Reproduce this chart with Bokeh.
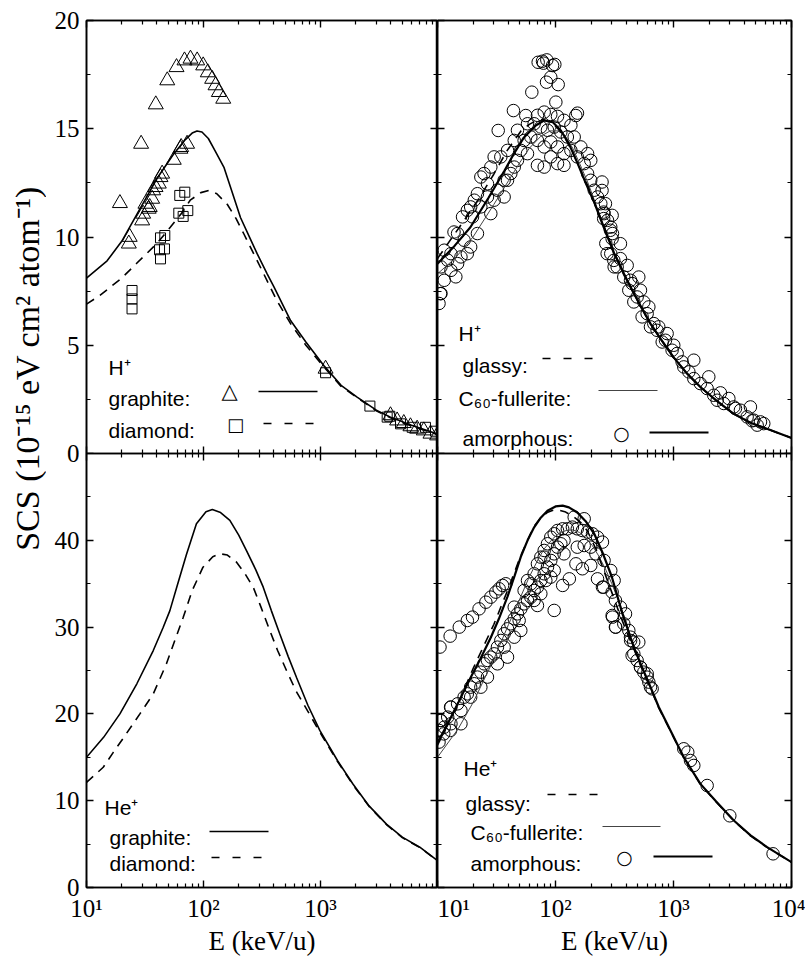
import math
from bokeh.plotting import figure
from bokeh.models import Range1d, LogAxis, LinearAxis, FixedTicker, Label, Arrow
from bokeh.layouts import row, column
from bokeh.embed import file_html
from bokeh.resources import INLINE

SERIF = "Liberation Serif"
SANS = "Liberation Sans"
SYM = "DejaVu Sans"

# ---------------- axes / ticks ----------------
x_major = [10, 100, 1000, 10000]
x_major_left = [10, 100, 1000]
x_minor = [20, 30, 40, 50, 60, 70, 80, 90,
           200, 300, 400, 500, 600, 700, 800, 900,
           2000, 3000, 4000, 5000, 6000, 7000, 8000, 9000]
x_labels = {10: "10¹", 100: "10²", 1000: "10³", 10000: "10⁴"}
x_title = "E (keV/u)"
y_title = "SCS (10⁻¹⁵ eV cm² atom⁻¹)"
top_y_major = [0, 5, 10, 15, 20]
top_y_minor = [2.5, 7.5, 12.5, 17.5]
bot_y_major = [0, 10, 20, 30, 40]
bot_y_minor = [5, 15, 25, 35, 45]

# ---------------- H+ : graphite / diamond (top left) ----------------
H_graphite_E = [10, 15, 20, 30, 40, 55, 70, 80, 88, 97, 110, 125, 150, 175, 207, 250, 288, 350, 400, 555, 750, 1067, 1500, 2055, 3000, 3963, 6000, 10000]
H_graphite_S = [8.1, 8.9, 9.8, 11.5, 12.7, 13.8, 14.5, 14.8, 14.9, 14.85, 14.55, 14.0, 13.2, 12.1, 10.9, 9.94, 9.22, 8.3, 7.7, 6.14, 5.15, 4.06, 3.15, 2.6, 2.0, 1.68, 1.3, 0.9]
H_diamond_E = [10, 13, 20, 27, 40, 52, 65, 77, 95, 111, 130, 160, 190, 221, 270, 327, 420, 555, 750, 1067, 1500, 2055, 3000, 3963, 6000, 10000]
H_diamond_S = [6.9, 7.3, 8.1, 8.8, 9.7, 10.45, 11.1, 11.7, 12.05, 12.15, 12.0, 11.5, 10.85, 10.15, 9.2, 8.3, 7.1, 6.0, 5.0, 4.0, 3.1, 2.58, 1.97, 1.65, 1.27, 0.87]

H_graphite_data = [
    (19.3, 11.56), (29.3, 14.3), (39.1, 16.12), (49, 17.23), (58.8, 17.84), (68.8, 18.15),
    (77.4, 18.23), (88.3, 18.15), (99.4, 17.92), (108.8, 17.6), (118.6, 17.3), (126.7, 17.0),
    (135.3, 16.69), (147.5, 16.38), (23, 9.69), (23.4, 10.0), (29.9, 10.76), (30.5, 11.07),
    (31.9, 11.53), (34.0, 11.3), (34.7, 11.38), (36.4, 11.76), (37.1, 12.15), (38.9, 12.3),
    (41.5, 12.46), (42.9, 12.76), (44.3, 12.92), (55.7, 13.56), (63.5, 14.07), (64.4, 14.15),
    (72.4, 14.3), (1105, 3.91), (3963, 1.76), (4519, 1.52), (5150, 1.40), (5874, 1.25),
    (6698, 1.14), (7638, 1.06), (8710, 0.91), (9932, 0.83)]
H_diamond_data = [
    (24.5, 7.53), (24.5, 7.14), (24.5, 6.68), (42.1, 9.41), (42.9, 8.99), (46.4, 9.45),
    (42.9, 9.96), (46.7, 10.07), (61.5, 11.1), (67, 10.95), (73.4, 11.22), (62.7, 11.92),
    (69.2, 12.07), (1105, 3.73), (2644, 2.19), (3715, 1.68), (3910, 1.72), (4830, 1.37),
    (6080, 1.21), (7890, 1.21), (9620, 1.03)]

# ---------------- H+ : glassy / C60 / amorphous (top right) ----------------
H_amorph_E = [10, 14, 19, 27, 37, 45, 54, 68, 80, 95, 111, 130, 154, 180, 213, 250, 314, 380, 461, 540, 638, 800, 1000, 1300, 1700, 2300, 3240, 4500, 6200, 10000]
H_amorph_S = [8.76, 9.6, 10.45, 11.8, 13.07, 13.9, 14.6, 15.15, 15.38, 15.3, 14.92, 14.3, 13.4, 12.5, 11.6, 10.6, 9.25, 8.3, 7.4, 6.7, 6.0, 5.2, 4.45, 3.7, 3.06, 2.45, 1.83, 1.42, 1.14, 0.72]
H_c60_E = [10, 14, 20, 30, 40, 50, 60, 75, 90, 105, 120, 140, 160, 190, 220, 270, 320, 380, 461, 540, 638, 800, 1000, 1300, 1700, 2300, 3240, 4500, 6200, 10000]
H_c60_S = [8.3, 9.0, 10.0, 11.5, 12.6, 13.45, 14.1, 14.65, 14.9, 14.9, 14.7, 14.1, 13.4, 12.45, 11.5, 10.2, 9.1, 8.2, 7.35, 6.65, 5.95, 5.15, 4.4, 3.66, 3.02, 2.42, 1.8, 1.4, 1.12, 0.71]
H_glassy_E = [10, 13, 17, 22, 30, 39, 51, 60, 70, 80, 90, 105, 120, 140, 160, 190, 220, 270, 320, 380, 461, 540, 638, 800, 1000, 1300, 1700, 2300, 3240, 4500, 6200, 10000]
H_glassy_S = [9.0, 9.9, 10.8, 11.7, 12.9, 14.0, 14.9, 15.2, 15.4, 15.42, 15.3, 15.0, 14.6, 13.9, 13.2, 12.3, 11.4, 10.2, 9.2, 8.3, 7.4, 6.7, 6.0, 5.2, 4.45, 3.7, 3.06, 2.45, 1.83, 1.42, 1.14, 0.72]

H_amorph_data = [
    (71.3, 18.07), (77.6, 18.12), (84.4, 18.18), (79.1, 18.03), (94.4, 17.92), (98.7, 17.97),
    (91.2, 17.38), (83.9, 17.15), (105.4, 17.04), (63, 16.69), (100.7, 16.23), (44, 15.84),
    (32.7, 14.92), (56, 15.61), (153.5, 15.72), (148.6, 15.61),
    (70.3, 15.62), (80.2, 15.77), (91.2, 15.66), (104, 15.57), (118, 15.39), (135, 15.16),
    (65.9, 15.23), (75.1, 15.08), (85.5, 14.93), (97.5, 15.08), (111, 14.85), (126, 14.62),
    (144, 14.62), (164, 14.16), (187, 13.85), (199, 13.54), (61.8, 14.62), (70.3, 14.46),
    (80.2, 14.16), (91.2, 14.39), (104, 14.16), (118, 13.85), (135, 14.0), (153, 13.7),
    (175, 13.39), (70.3, 13.31), (80.2, 13.23), (91.2, 13.7), (104, 13.39), (118, 13.31),
    (50.8, 14.0), (57.9, 13.85), (54.2, 14.46), (47.6, 13.54), (44.7, 13.23), (41.8, 12.93),
    (39.2, 14.0), (36.7, 12.62), (187, 12.93), (199, 12.62), (213, 12.16), (227, 11.85),
    (242, 11.54), (258, 11.08), (276, 10.77), (294, 10.46), (304, 10.16), (267, 9.70),
    (294, 9.23), (314, 8.62),
    (30.2, 13.7), (28.3, 13.23), (24.8, 12.93), (23.3, 12.77), (26.5, 12.46), (21.8, 12.0),
    (20.5, 11.7), (19.1, 11.39), (17.9, 11.23), (16.3, 10.93), (19.8, 10.93), (14.8, 10.16),
    (13.8, 10.23), (16.8, 9.85), (19.1, 9.54), (17.9, 9.23), (21.8, 10.16), (28.3, 11.08),
    (32.2, 12.16), (39.2, 12.62), (36.7, 11.85), (13.0, 9.23), (11.4, 9.39), (12.2, 8.93),
    (10.7, 8.62), (13.0, 8.46), (14.3, 8.16), (11.4, 8.0), (10.7, 7.39), (10.3, 6.93),
    (14.8, 8.77), (15.8, 9.08), (44.7, 14.46), (34.4, 13.7), (47.6, 14.93), (57.9, 15.23),
    (26.5, 11.85), (23.3, 11.39), (30.2, 11.7), (10.6, 7.38),
    (248, 12.54), (248, 12.15), (265, 11.54), (256, 11.15), (302, 11.0), (256, 10.85),
    (292, 10.31), (302, 9.92), (355, 9.69), (274, 9.23), (312, 8.92), (355, 9.0),
    (333, 8.62), (405, 8.69), (379, 8.15), (508, 8.15), (446, 7.85), (525, 7.54),
    (492, 7.23), (461, 7.0), (560, 7.0), (618, 6.77), (598, 6.46), (542, 6.31),
    (681, 6.0), (638, 5.85), (726, 5.69), (883, 5.54), (802, 5.15), (1005, 5.0),
    (973, 4.77), (1183, 4.23), (1486, 4.31), (1349, 3.77), (1486, 3.46), (1690, 3.23),
    (1991, 3.54), (1928, 3.0), (2193, 2.69), (2500, 2.8), (2944, 2.54), (2667, 2.31),
    (3350, 2.08), (3690, 2.0), (4487, 2.15), (4207, 1.69), (4786, 1.54), (5458, 1.46),
    (5821, 1.38), (5117, 1.31), (4634, 1.51), (3243, 2.15), (2344, 2.46), (1222, 4.0),
    (1074, 4.62), (855, 5.23), (750, 5.85), (432, 8.0), (418, 7.54)]

# ---------------- He+ : graphite / diamond (bottom left) ----------------
He_graphite_E = [10, 14, 19.3, 27, 37.2, 45, 51.6, 60, 71.6, 87, 105, 119, 140, 168, 200, 233, 280, 324, 380, 449, 530, 624, 780, 986, 1400, 1900, 2600, 3660, 5000, 7060, 10000]
He_graphite_S = [15.0, 17.3, 20.0, 23.5, 27.3, 29.9, 31.9, 34.9, 38.4, 41.9, 43.3, 43.55, 43.2, 42.3, 40.6, 38.8, 36.6, 34.6, 31.9, 29.2, 26.6, 24.2, 21.0, 18.1, 14.6, 11.9, 9.4, 7.3, 5.8, 4.64, 3.11]
He_diamond_E = [10, 13.9, 17, 20.6, 28.6, 37.2, 48.3, 57, 67, 80, 99, 120, 138, 160, 191, 225, 266, 310, 369, 430, 512, 620, 780, 986, 1400, 1900, 2600, 3660, 5000, 7060, 10000]
He_diamond_S = [12.1, 13.85, 15.6, 17.2, 20.0, 22.3, 25.8, 28.5, 31.1, 34.2, 36.9, 38.1, 38.45, 38.3, 37.5, 36.2, 34.6, 32.3, 29.6, 27.3, 25.0, 22.6, 20.3, 17.9, 14.5, 11.8, 9.35, 7.25, 5.75, 4.6, 3.1]

# ---------------- He+ : glassy / C60 / amorphous (bottom right) ----------------
He_amorph_E = [10, 12.2, 15, 19.1, 23, 28.3, 33, 39.2, 45, 50.8, 58, 65.9, 75, 85.5, 100, 115, 130, 153, 180, 213, 250, 300, 370, 461, 540, 638, 750, 883, 1222, 1690, 2300, 3243, 4500, 6210, 10000]
He_amorph_S = [16.7, 18.86, 21.3, 24.2, 26.3, 28.8, 30.9, 33.5, 35.9, 38.1, 40.0, 41.5, 42.6, 43.4, 43.9, 44.0, 43.8, 43.2, 42.2, 40.75, 38.6, 35.8, 31.5, 27.7, 25.4, 23.1, 20.8, 18.86, 15.0, 11.94, 9.9, 7.72, 6.0, 4.65, 2.92]
He_c60_E = [10, 15, 20, 30, 40, 50, 60, 70, 80, 95, 110, 125, 140, 160, 180, 205, 230, 265, 300, 350, 400, 461, 540, 638, 750, 883, 1222, 1690, 2300, 3243, 4500, 6210, 10000]
He_c60_S = [15.0, 18.3, 21.3, 26.3, 30.3, 33.3, 35.8, 37.6, 39.0, 40.2, 40.9, 41.15, 41.2, 40.9, 40.3, 39.4, 38.3, 36.7, 35.0, 32.7, 30.5, 27.6, 25.2, 23.0, 20.7, 18.8, 14.95, 11.9, 9.85, 7.7, 5.95, 4.63, 2.91]
He_glassy_E = [10, 15, 20, 30, 40, 50, 65, 75, 85, 95, 104, 120, 143, 165, 186, 220, 257, 300, 350, 400, 461, 540, 638, 750, 883, 1222, 1690, 2300, 3243, 4500, 6210, 10000]
He_glassy_S = [16.4, 21.2, 25.2, 30.3, 34.5, 38.0, 41.5, 42.6, 43.2, 43.45, 43.5, 43.3, 42.7, 42.0, 41.1, 39.0, 36.5, 34.0, 31.5, 29.5, 27.5, 25.2, 23.0, 20.7, 18.8, 14.95, 11.9, 9.85, 7.7, 5.95, 4.63, 2.91]

He_amorph_data = [
    (10.5, 27.7), (12.8, 28.96), (15.3, 30.0), (17.9, 30.76), (19.8, 31.15), (22.5, 32.1),
    (25.7, 32.87), (28.3, 33.45), (31.2, 34.03), (33.3, 34.41), (35.6, 34.8), (37.9, 34.99),
    (10.7, 19.24), (12.2, 19.63), (13.0, 20.78), (14.8, 21.16), (15.8, 20.39), (16.8, 21.93),
    (17.9, 22.31), (19.1, 23.08), (20.5, 23.47), (21.8, 24.24), (23.3, 24.81), (24.8, 25.77),
    (26.5, 26.16), (28.3, 26.54), (30.2, 26.92), (32.2, 27.69), (34.4, 28.46), (36.7, 29.23),
    (39.2, 29.8), (41.8, 30.38), (44.7, 30.96), (47.6, 31.53), (50.8, 32.1), (54.2, 32.68),
    (57.9, 33.07), (61.8, 33.45), (65.9, 34.22), (70.3, 34.6), (75.1, 35.37), (80.2, 36.14),
    (85.5, 36.91), (91.2, 37.68), (97.5, 38.44), (104, 39.21), (111, 39.6), (118, 39.98),
    (61.8, 34.99), (65.9, 36.14), (70.3, 37.29), (75.1, 38.06), (80.2, 38.83), (85.5, 39.6),
    (91.2, 40.36), (97.5, 40.75), (104, 41.13), (115, 41.32), (126, 41.32), (139, 41.52),
    (153, 41.32), (169, 41.13), (187, 40.94), (206, 40.75), (227, 40.36), (250, 39.79),
    (144, 42.67), (175, 42.48), (153, 39.21), (175, 39.4), (199, 39.21), (220, 38.44),
    (258, 37.68), (294, 36.52), (314, 35.37), (118, 38.44), (115, 34.8), (97.5, 31.92),
    (131, 35.56), (149, 37.29), (169, 36.72), (199, 37.1), (227, 35.56), (250, 34.6),
    (304, 31.15), (324, 30.0), (36.7, 27.69), (39.2, 26.54), (44.7, 28.84), (50.8, 29.61),
    (32.2, 25.77), (26.5, 24.24), (23.3, 23.08), (19.1, 21.93), (15.8, 18.86), (11.4, 18.47),
    (13.0, 18.86), (44.7, 32.3), (54.2, 34.22), (57.9, 35.37), (75.1, 33.84), (70.3, 32.49),
    (65.9, 33.07), (49.2, 30.76), (80.2, 38.06), (97.5, 36.52), (91.2, 35.76), (82.8, 35.37),
    (10.3, 18.1), (10.6, 19.24), (12.9, 20.78), (11.3, 17.7), (12.9, 18.1), (10.3, 16.75),
    (256, 34.6), (302, 34.03), (322, 33.07), (355, 32.3), (392, 31.53), (302, 31.34),
    (322, 30.0), (379, 30.38), (418, 29.61), (432, 28.84), (460, 28.27), (508, 28.27),
    (446, 26.73), (492, 26.15), (525, 25.38), (560, 24.81), (598, 24.23), (618, 23.66),
    (659, 22.89), (433, 28.46), (461, 26.92), (526, 25.38), (599, 24.62), (638, 23.08),
    (1222, 15.98), (1321, 15.59), (1393, 14.63), (1486, 14.06), (1928, 11.75), (3000, 8.26),
    (6980, 3.88)]


def split(pts):
    return [a for a, _ in pts], [b for _, b in pts]


# ---------------- helpers ----------------
def axis_style(ax, ticks, minor, show, overrides=None):
    ax.ticker = FixedTicker(ticks=ticks, minor_ticks=minor)
    ax.axis_line_color = "black"
    ax.axis_line_width = 1.6
    ax.major_tick_in = 7
    ax.major_tick_out = 0
    ax.minor_tick_in = 4
    ax.minor_tick_out = 0
    ax.major_tick_line_color = "black"
    ax.minor_tick_line_color = "black"
    ax.major_tick_line_width = 1.4
    ax.minor_tick_line_width = 1.2
    ax.major_label_text_font = SERIF
    ax.major_label_text_color = "black"
    if show:
        ax.major_label_text_font_size = "25px"
        ax.major_label_standoff = 7
        if overrides is not None:
            ax.major_label_overrides = overrides
    else:
        ax.major_label_text_font_size = "1px"
        ax.major_label_text_alpha = 0
        ax.major_label_standoff = 0


def make_panel(w, h, ytop, ymaj, ymin, show_y, show_x, xticks, bl, br, bt, bb, clear=False):
    p = figure(width=w, height=h, x_axis_type="log",
               x_range=Range1d(10, 10000), y_range=Range1d(0, ytop),
               output_backend="svg", toolbar_location=None,
               min_border_left=bl, min_border_right=br,
               min_border_top=bt, min_border_bottom=bb)
    p.xgrid.visible = False
    p.ygrid.visible = False
    p.outline_line_color = "black"
    p.outline_line_width = 1.5
    p.background_fill_color = "white"
    p.border_fill_color = None if clear else "white"
    axis_style(p.xaxis[0], xticks, x_minor, show_x, x_labels)
    if show_x:
        p.xaxis[0].axis_label = x_title
        p.xaxis[0].axis_label_text_font = SERIF
        p.xaxis[0].axis_label_text_font_size = "27px"
        p.xaxis[0].axis_label_text_font_style = "normal"
        p.xaxis[0].axis_label_text_color = "black"
        p.xaxis[0].axis_label_standoff = 1
    axis_style(p.yaxis[0], ymaj, ymin, show_y)
    ta = LogAxis()
    axis_style(ta, x_major, x_minor, False)
    p.add_layout(ta, "above")
    ra = LinearAxis()
    axis_style(ra, ymaj, ymin, False)
    p.add_layout(ra, "right")
    return p


def txt(p, x, y, s, size="21px", font=SANS, align="left", baseline="alphabetic"):
    p.add_layout(Label(x=x, y=y, x_units="screen", y_units="screen", text=s,
                       text_font=font, text_font_size=size, text_align=align,
                       text_baseline=baseline, text_color="black"))


def seg(p, x0, x1, y, width=1.6, dash="solid", color="black"):
    p.add_layout(Arrow(end=None, x_start=x0, x_end=x1, y_start=y, y_end=y,
                       start_units="screen", end_units="screen",
                       line_width=width, line_dash=dash, line_color=color))


DASH = "9 7"
THIN = "#444444"
OVER = 14  # bottom row overlaps the top row's bottom border so the shared "0" is whole

# ---------------- panels ----------------
tl = make_panel(391, 453 + OVER, 20, top_y_major, top_y_minor, True, False, x_major, 40, 0, 20, OVER)
tr = make_panel(368, 453 + OVER, 20, top_y_major, top_y_minor, False, False, x_major, 0, 14, 20, OVER)
bl = make_panel(391, 506, 50, bot_y_major, bot_y_minor, True, True, x_major_left, 40, 0, 0, 72, clear=True)
br = make_panel(368, 506, 50, bot_y_major, bot_y_minor, False, True, x_major, 0, 14, 0, 72, clear=True)

# top left
tl.line(H_graphite_E, H_graphite_S, line_color="black", line_width=1.6)
tl.line(H_diamond_E, H_diamond_S, line_color="black", line_width=1.6, line_dash=DASH)
e, s = split(H_graphite_data)
tl.scatter(e, s, marker="triangle", size=15, fill_color=None, line_color="black", line_width=1)
e, s = split(H_diamond_data)
tl.scatter(e, s, marker="square", size=10, fill_color=None, line_color="black", line_width=1)
txt(tl, 22, 86, "H⁺")
txt(tl, 22, 55, "graphite:")
txt(tl, 22, 23, "diamond:")
txt(tl, 143, 63, "△", size="21px", font=SYM, align="center", baseline="middle")
txt(tl, 149, 29, "□", size="18px", font=SYM, align="center", baseline="middle")
seg(tl, 172, 231, 62)
seg(tl, 177, 236, 30, dash="8 13")

# top right
e, s = split(H_amorph_data)
tr.scatter(e, s, marker="circle", size=12.5, fill_color=None, line_color="black", line_width=1)
tr.line(H_c60_E, H_c60_S, line_color=THIN, line_width=1)
tr.line(H_glassy_E, H_glassy_S, line_color="black", line_width=1.6, line_dash=DASH)
tr.line(H_amorph_E, H_amorph_S, line_color="black", line_width=2.2)
txt(tr, 21, 120, "H⁺")
txt(tr, 25, 88, "glassy:")
seg(tr, 105, 163, 95, dash="8 13")
txt(tr, 21, 55, "C₆₀-fullerite:")
seg(tr, 161, 220, 63, width=1, color=THIN)
txt(tr, 25, 15, "amorphous:")
txt(tr, 184, 21, "○", size="19px", font=SYM, align="center", baseline="middle")
seg(tr, 212, 271, 21, width=2.2)

# bottom left
bl.line(He_graphite_E, He_graphite_S, line_color="black", line_width=1.6)
bl.line(He_diamond_E, He_diamond_S, line_color="black", line_width=1.6, line_dash=DASH)
txt(bl, 18, 80, "He⁺")
txt(bl, 23, 50, "graphite:")
seg(bl, 123, 182, 56)
txt(bl, 23, 24, "diamond:")
seg(bl, 125, 185, 30, dash="8 13")

# bottom right
e, s = split(He_amorph_data)
br.scatter(e, s, marker="circle", size=12.5, fill_color=None, line_color="black", line_width=1)
br.line(He_c60_E, He_c60_S, line_color=THIN, line_width=1)
br.line(He_glassy_E, He_glassy_S, line_color="black", line_width=1.6, line_dash=DASH)
br.line(He_amorph_E, He_amorph_S, line_color="black", line_width=2.2)
txt(br, 26, 119, "He⁺")
txt(br, 28, 84, "glassy:")
seg(br, 110, 166, 93, dash="8 13")
txt(br, 33, 55, "C₆₀-fullerite:")
seg(br, 165, 223, 61, width=1, color=THIN)
txt(br, 33, 24, "amorphous:")
txt(br, 187, 31, "○", size="19px", font=SYM, align="center", baseline="middle")
seg(br, 216, 275, 31, width=2.2)

# y-axis title column
lab = figure(width=46, height=959, x_range=Range1d(0, 1), y_range=Range1d(0, 1),
             output_backend="svg", toolbar_location=None,
             x_axis_location=None, y_axis_location=None,
             min_border_left=0, min_border_right=0, min_border_top=0, min_border_bottom=0)
lab.outline_line_color = None
lab.xgrid.visible = False
lab.ygrid.visible = False
lab.add_layout(Label(x=27, y=591, x_units="screen", y_units="screen", angle=math.pi / 2,
                     text=y_title, text_font=SERIF, text_font_size="34px",
                     text_align="center", text_baseline="middle", text_color="black"))

layout = row(lab, column(row(tl, tr), row(bl, br, margin=(-OVER, 0, 0, 0))))
open("out.html", "w").write(file_html(layout, INLINE))
